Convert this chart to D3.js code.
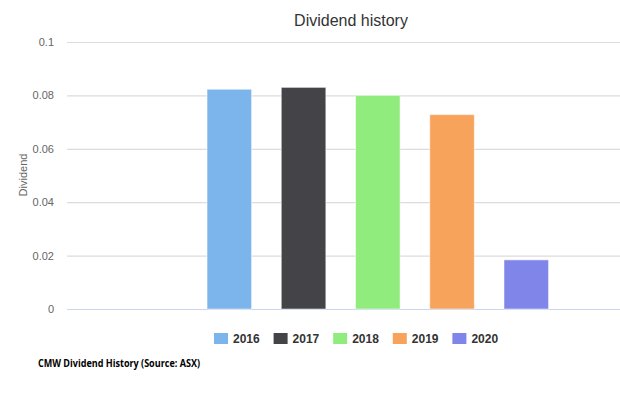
<!DOCTYPE html>
<html>
<head>
<meta charset="utf-8">
<script src="https://cdn.jsdelivr.net/npm/d3@7"></script>
<style>
  body { margin: 0; background: #fff; }
  svg { display: block; font-family: "Liberation Sans", Arial, sans-serif; }
</style>
</head>
<body>
<div id="chart"></div>
<script>
// data
var years = ["2016", "2017", "2018", "2019", "2020"];
var dividends = [0.0823, 0.0830, 0.0800, 0.0728, 0.0184];
var colors = ["#7cb5ec", "#434348", "#90ed7d", "#f7a35c", "#8085e9"];
var yTicks = [0, 0.02, 0.04, 0.06, 0.08, 0.1];

var width = 620;
var height = 398;

// plot area
var plot = { left: 67, right: 620, top: 42, bottom: 309 };

var svg = d3.select("#chart")
  .append("svg")
  .attr("width", width)
  .attr("height", height);

var data = years.map(function (y, i) {
  return { year: y, value: dividends[i], color: colors[i] };
});

// scales
var xscale = d3.scaleBand()
  .domain(years)
  .range([192.2, 563.4])
  .paddingInner(0.4)
  .paddingOuter(0.2);

var yscale = d3.scaleLinear()
  .domain([0, 0.1])
  .range([plot.bottom, plot.top]);

// title
svg.append("text")
  .attr("x", 351)
  .attr("y", 26)
  .attr("text-anchor", "middle")
  .style("font-size", "16px")
  .style("fill", "#333333")
  .text("Dividend history");

// gridlines + tick labels
var yAxis = d3.axisLeft(yscale)
  .tickValues(yTicks)
  .tickSize(-(plot.right - plot.left))
  .tickPadding(13)
  .tickFormat(function (d) { return String(+d.toFixed(2)); });

var gy = svg.append("g")
  .attr("transform", `translate(${plot.left}, 0)`)
  .call(yAxis);
gy.select(".domain").remove();
gy.selectAll(".tick line")
  .attr("stroke", "#dcdcdc")
  .attr("stroke-width", 1.2);
gy.selectAll(".tick text")
  .style("font-size", "11px")
  .style("fill", "#666666");

// baseline
svg.append("line")
  .attr("x1", plot.left)
  .attr("x2", plot.right)
  .attr("y1", yscale(0) + 0.5)
  .attr("y2", yscale(0) + 0.5)
  .attr("stroke", "#ccd6eb")
  .attr("stroke-width", 1);

// y axis title
svg.append("text")
  .attr("transform", `translate(27, 175) rotate(-90)`)
  .attr("text-anchor", "middle")
  .style("font-size", "11px")
  .style("fill", "#666666")
  .text("Dividend");

// bars
svg.append("g")
  .selectAll("rect")
  .data(data)
  .enter()
  .append("rect")
  .attr("x", d => xscale(d.year))
  .attr("y", d => yscale(d.value))
  .attr("width", xscale.bandwidth())
  .attr("height", d => yscale(0) - yscale(d.value))
  .attr("fill", d => d.color)
  .attr("stroke", "#ffffff")
  .attr("stroke-opacity", 0.5)
  .attr("stroke-width", 1);

// legend
var legend = svg.append("g")
  .selectAll("g")
  .data(data)
  .enter()
  .append("g")
  .attr("transform", (d, i) => `translate(${214 + i * 59.6}, 333)`);

legend.append("rect")
  .attr("width", 14)
  .attr("height", 11)
  .attr("fill", d => d.color);

legend.append("text")
  .attr("x", 19)
  .attr("y", 10)
  .style("font-size", "12px")
  .style("font-weight", "bold")
  .style("fill", "#333333")
  .text(d => d.year);

// caption
svg.append("text")
  .attr("x", 38)
  .attr("y", 367)
  .attr("textLength", 162)
  .attr("lengthAdjust", "spacingAndGlyphs")
  .style("font-family", "'Open Sans', sans-serif")
  .style("font-size", "10px")
  .style("font-weight", "bold")
  .style("fill", "#000000")
  .text("CMW Dividend History (Source: ASX)");
</script>
</body>
</html>
